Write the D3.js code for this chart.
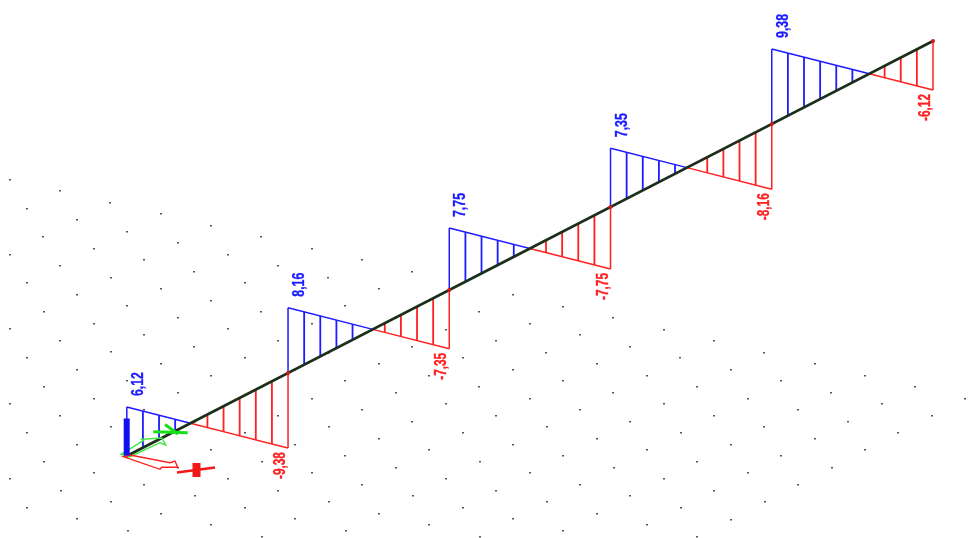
<!DOCTYPE html>
<html><head><meta charset="utf-8">
<style>html,body{margin:0;padding:0;background:#fff}svg{display:block}</style>
<script src="https://cdn.jsdelivr.net/npm/d3@7"></script>
</head><body>
<svg id="c" width="972" height="538"></svg>
<script>
const nodes = [0, 1, 2, 3, 4, 5];
const stations = [0, 0.1, 0.2, 0.3, 0.4, 0.5, 0.6, 0.7, 0.8, 0.9, 1];
const span1 = [6.12, 4.57, 3.02, 1.47, -0.08, -1.63, -3.18, -4.73, -6.28, -7.83, -9.38];
const span2 = [8.16, 6.61, 5.06, 3.51, 1.96, 0.41, -1.15, -2.70, -4.25, -5.80, -7.35];
const span3 = [7.75, 6.20, 4.65, 3.10, 1.55, 0, -1.55, -3.10, -4.65, -6.20, -7.75];
const span4 = [7.35, 5.80, 4.25, 2.70, 1.15, -0.41, -1.96, -3.51, -5.06, -6.61, -8.16];
const span5 = [9.38, 7.83, 6.28, 4.73, 3.18, 1.63, 0.08, -1.47, -3.02, -4.57, -6.12];
const spans = [span1, span2, span3, span4, span5];
const startLabels = ["6,12", "8,16", "7,75", "7,35", "9,38"];
const endLabels = ["-9,38", "-7,35", "-7,75", "-8,16", "-6,12"];

const BLUE = "#1c1cff", RED = "#ff2020";
const svg = d3.select("#c");
const root = svg.append("g").style("filter", "blur(0.4px)");

// Oblique projection of the beam: position along it, and value as a vertical offset
const px = d3.scaleLinear().domain([0, 5]).range([126.8, 933]);
const py = d3.scaleLinear().domain([0, 5]).range([456, 41]);
const dv = d3.scaleLinear().domain([0, 1]).range([0, -8]);

// Ground grid lattice
const gx = d3.scaleLinear().domain([0, 1]).range([0, 50.3]);
const gy = d3.scaleLinear().domain([0, 1]).range([0, 11.52]);
const hx = d3.scaleLinear().domain([0, 1]).range([0, 16.8]);
const hy = d3.scaleLinear().domain([0, 1]).range([0, 28.78]);
const gridI = d3.range(-6, 20), gridJ = d3.range(0, 14);
const dots = [];
gridI.forEach(i => gridJ.forEach(j => {
  const x = 9.8 + gx(i) + hx(j), y = 179.8 + gy(i) + hy(j);
  if (i + j <= 19 && x > 4 && x < 972 && y < 538) dots.push([x, y]);
}));
root.append("g").selectAll("rect").data(dots).join("rect")
  .attr("x", d => Math.round(d[0]) - 1).attr("y", d => Math.round(d[1]) - 1)
  .attr("width", 2).attr("height", 1.5).attr("fill", "#555");

// Shear diagram
spans.forEach((vals, s) => {
  const X = t => px(s + t), Y = t => py(s + t);
  const g = root.append("g").attr("fill", "none");
  stations.forEach((t, k) => {
    const v = vals[k];
    if (Math.abs(v) < 0.5) return;
    g.append("line").attr("x1", X(t)).attr("x2", X(t))
      .attr("y1", Y(t)).attr("y2", Y(t) + dv(v))
      .attr("stroke", v > 0 ? BLUE : RED)
      .attr("stroke-width", (k === 0 || k === 10) ? 1.5 : 1.8);
  });
  const zero = vals[0] / (vals[0] - vals[10]);
  g.append("line").attr("x1", X(0)).attr("y1", Y(0) + dv(vals[0]))
    .attr("x2", X(zero)).attr("y2", Y(zero)).attr("stroke", BLUE).attr("stroke-width", 1.4);
  g.append("line").attr("x1", X(zero)).attr("y1", Y(zero))
    .attr("x2", X(1)).attr("y2", Y(1) + dv(vals[10])).attr("stroke", RED).attr("stroke-width", 1.4);

  const label = (txt, x, y, fill, len) => root.append("text")
    .attr("transform", `translate(${x},${y}) rotate(-90)`)
    .attr("font-family", "'Liberation Sans', Arial, sans-serif")
    .attr("font-weight", 700).attr("font-size", 17)
    .attr("textLength", len).attr("lengthAdjust", "spacingAndGlyphs")
    .attr("stroke", fill).attr("stroke-width", 0.35)
    .attr("fill", fill).text(txt);
  label(startLabels[s], X(0) + 16, Y(0) + dv(vals[0]) - 11, BLUE, 24);
  label(endLabels[s], X(1) - 3, Y(1) + dv(vals[10]) + 31, RED, 27);
});

// Beam
root.append("line").attr("x1", px(0)).attr("y1", py(0)).attr("x2", px(5)).attr("y2", py(5))
  .attr("stroke", "#1a2e1a").attr("stroke-width", 2.8);
root.append("g").selectAll("circle").data(nodes).join("circle")
  .attr("cx", d => px(d)).attr("cy", d => py(d)).attr("r", 2).attr("fill", "#d01818");

// Coordinate system icon
const ln = d3.line();
const icon = root.append("g");
icon.append("path").attr("d", ln([[121,454.3],[143.3,440.7],[141.7,439.3],[161.7,438],[165.7,445],[160,442.7],[130,456.7]]) + "Z")
  .attr("fill", "none").attr("stroke", "#3de83d").attr("stroke-width", 1.4);
icon.append("path").attr("d", ln([[153.3,431.7],[187.7,432.7]])).attr("stroke", "#18e018").attr("stroke-width", 3);
icon.append("path").attr("d", ln([[165,424.5],[178,434]])).attr("stroke", "#18e018").attr("stroke-width", 3);
icon.append("path").attr("d", ln([[123.3,456.7],[160,469.3],[161.7,467.3],[177.7,467.3],[175,461],[170,462.7],[130,455]]) + "Z")
  .attr("fill", "none").attr("stroke", RED).attr("stroke-width", 1.4);
icon.append("path").attr("d", ln([[177,472.5],[215,467.5]])).attr("stroke", "#f01818").attr("stroke-width", 2.6);
icon.append("rect").attr("x", 192.5).attr("y", 463).attr("width", 8).attr("height", 14).attr("fill", "#f01818");
icon.append("rect").attr("x", 123.7).attr("y", 418.5).attr("width", 6).attr("height", 37).attr("fill", "#1010f0");
</script>
</body></html>
